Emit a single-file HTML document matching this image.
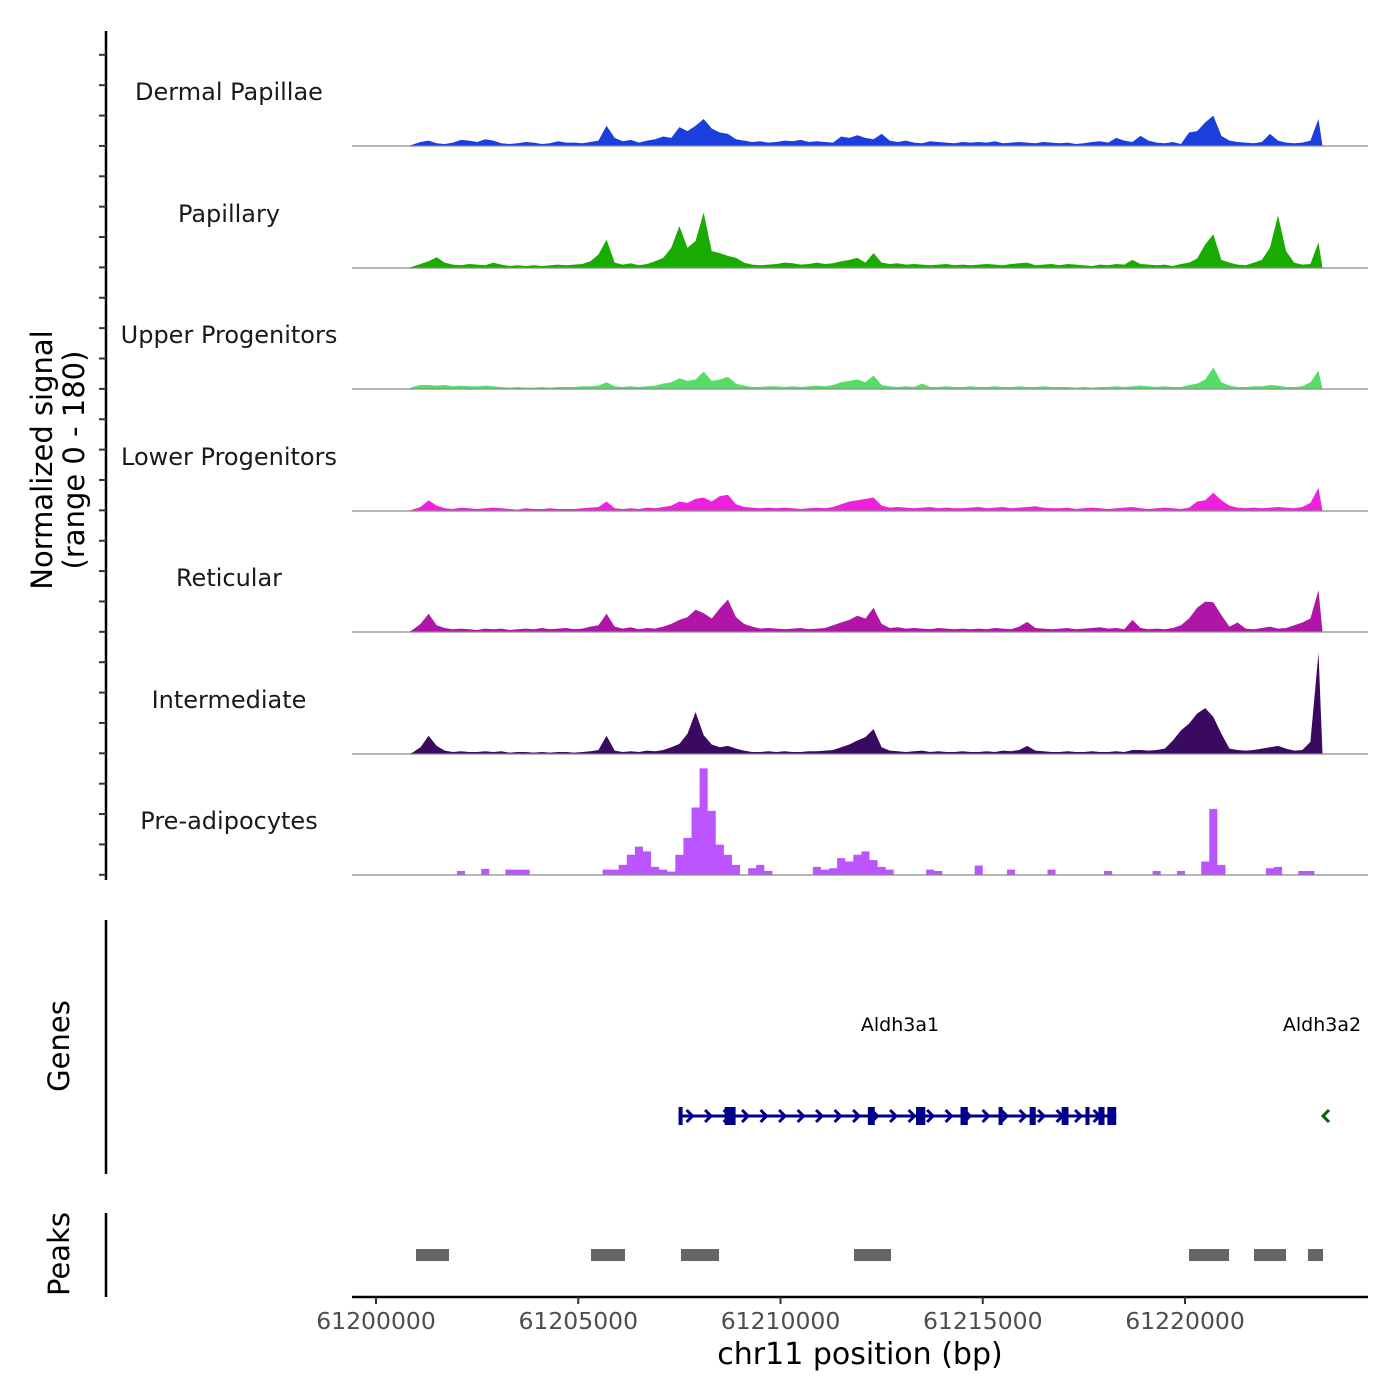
<!DOCTYPE html>
<html><head><meta charset="utf-8"><style>
body{margin:0;background:#fff}
svg{display:block;font-family:"DejaVu Sans","Liberation Sans",sans-serif}
</style></head><body>
<svg id="chart" width="1400" height="1400" viewBox="0 0 1400 1400" xmlns="http://www.w3.org/2000/svg">
<g id="tracks"></g>
<g id="axes"></g>
<g id="genes"></g>
<g id="peaks"></g>
</svg>
<script>
const trackNames=["Dermal Papillae","Papillary","Upper Progenitors","Lower Progenitors","Reticular","Intermediate","Pre-adipocytes"];
const trackColors=["#1a3fdc","#1aab00","#55dd66","#ee22dd","#b015a8","#3a0a60","#bb55ff"];
const binStart=61200800, binSize=200;
const dermalPapillae=[2,6,8,4,3,5,9,8,6,10,8,4,3,4,6,5,3,4,7,5,5,4,6,8,30,12,7,9,5,8,10,14,12,28,22,30,40,26,20,18,10,8,6,7,5,6,8,7,9,6,7,6,5,14,12,16,12,10,18,8,6,8,5,4,7,6,5,4,6,5,6,5,7,4,5,6,5,4,6,5,4,5,3,4,6,7,5,12,8,6,15,8,5,4,6,3,20,22,35,45,15,8,6,5,4,6,18,8,5,4,5,8,40];
const papillary=[2,6,10,16,8,5,4,6,5,4,8,5,3,4,3,4,3,4,5,4,5,6,10,20,42,8,5,7,4,6,10,15,30,62,30,40,82,25,22,18,15,8,5,4,5,6,8,7,5,6,8,6,7,10,12,15,8,22,8,6,7,5,6,5,4,5,6,4,5,4,5,6,5,4,6,7,8,4,5,6,4,6,5,4,3,5,4,6,5,12,6,5,4,5,3,6,8,14,35,50,12,8,5,4,8,12,30,78,25,8,5,6,38];
const upperProgenitors=[3,6,6,5,6,4,5,4,4,5,4,3,2,3,2,2,3,2,3,3,3,4,4,5,10,4,3,4,3,4,5,8,10,16,12,14,26,12,14,18,8,5,3,3,4,4,3,4,3,4,5,4,6,10,12,14,10,20,6,4,3,4,3,8,3,3,4,3,3,4,3,3,4,3,3,4,3,3,4,3,3,3,2,3,2,3,3,4,3,4,5,4,3,4,3,3,6,8,14,32,10,5,3,3,4,4,6,5,3,3,4,10,27];
const lowerProgenitors=[2,6,16,8,4,3,5,4,3,4,5,4,3,2,4,3,3,4,3,3,3,4,5,6,14,4,3,4,3,5,4,6,8,14,12,18,20,14,22,24,10,6,5,4,5,4,5,4,3,4,5,4,6,10,14,16,18,20,8,5,6,5,4,5,6,4,5,4,4,5,6,4,5,6,4,5,6,7,5,4,4,5,3,4,5,4,3,4,5,6,4,3,4,5,4,3,5,14,16,27,16,8,5,4,5,4,5,6,5,4,6,12,34];
const reticular=[3,12,27,10,6,4,5,4,3,5,4,5,3,4,5,4,6,4,5,6,4,5,8,10,27,8,5,7,4,6,5,8,12,18,22,33,28,20,35,48,22,12,8,5,6,5,4,5,6,4,5,6,10,14,18,24,20,36,12,6,7,5,6,5,4,6,5,4,5,4,5,4,6,5,4,8,15,6,5,4,5,6,4,5,6,7,5,6,4,18,6,4,5,4,6,10,20,36,45,44,25,8,14,5,4,6,8,5,6,10,14,20,62];
const intermediate=[2,10,27,12,5,3,4,3,3,4,3,4,2,3,3,2,3,2,3,3,2,3,4,6,27,5,3,4,3,5,4,6,10,15,30,62,28,14,10,12,8,5,3,3,4,3,4,3,3,4,4,5,6,10,14,20,25,37,10,5,4,3,4,5,3,4,3,3,4,3,3,4,3,5,4,6,12,5,4,3,3,4,3,3,4,3,3,4,3,6,6,5,6,8,20,35,45,60,68,55,30,8,6,5,6,8,10,12,8,5,6,18,150];
const preAdipocytes=[0,0,0,0,0,0,6,0,0,9,0,0,8,8,8,0,0,0,0,0,0,0,0,0,8,8,15,30,42,35,12,8,5,30,55,100,158,95,45,30,15,0,10,15,6,0,0,0,0,0,12,8,10,25,20,30,35,22,12,8,0,0,0,0,8,6,0,0,0,0,14,0,0,0,8,0,0,0,0,8,0,0,0,0,0,0,6,0,0,0,0,0,6,0,0,6,0,0,20,98,15,0,0,0,0,0,10,12,0,0,6,6,0];
const xTicks=[61200000,61205000,61210000,61215000,61220000];
const peakStarts=[61200989,61205315,61207540,61211817,61220099,61221706,61223041];
const peakEnds=[61201805,61206156,61208480,61212732,61221088,61222497,61223412];
const geneExonStarts=[61207480,61208620,61212160,61213350,61214450,61215390,61216160,61216950,61217540,61217860,61218080];
const geneExonEnds=[61207580,61208890,61212330,61213580,61214630,61215490,61216310,61217120,61217640,61218010,61218300];
const geneStart=61207480, geneEnd=61218300;

const NS="http://www.w3.org/2000/svg";
const X0=376, PXPERBP=809/20000;
function xScale(bp){return X0+(bp-61200000)*PXPERBP;}
const baselines=[146,268,389,511,632,754,875];
const trackH=121.5, yMax=180;
function yScale(v,i){return baselines[i]-v/yMax*trackH;}
function mk(tag,attrs,parent){const e=document.createElementNS(NS,tag);for(const k in attrs)e.setAttribute(k,attrs[k]);parent.appendChild(e);return e;}
const series=[dermalPapillae,papillary,upperProgenitors,lowerProgenitors,reticular,intermediate,preAdipocytes];
const gT=document.getElementById('tracks');
series.forEach((vals,i)=>{
  const b=baselines[i];
  let d="M"+xScale(binStart)+","+b;
  if(i===6){
    vals.forEach((v,j)=>{const x1=xScale(binStart+j*binSize),x2=xScale(binStart+(j+1)*binSize);d+=" L"+x1+","+yScale(v,i)+" L"+x2+","+yScale(v,i);});
  } else {
    vals.forEach((v,j)=>{d+=" L"+xScale(binStart+(j+0.5)*binSize)+","+yScale(v,i);});
  }
  d+=" L"+xScale(binStart+vals.length*binSize)+","+b+" Z";
  const p=mk('path',{d:d,fill:trackColors[i]},gT);
  
  
  const l=mk('line',{x1:352,x2:1368,y1:b,y2:b,stroke:'#8a8a8a','stroke-width':1.2},gT);
  
  
  const t=mk('text',{x:229,y:b-46,'text-anchor':'middle','font-size':24,fill:'#1a1a1a'},gT);
  t.textContent=trackNames[i];
  
  
});
const gA=document.getElementById('axes');
let a=mk('line',{x1:106,x2:106,y1:31,y2:880,stroke:'#000','stroke-width':2.5},gA);


for(let k=0;k<28;k++){const y=54.8+k*30.37;const tk=mk('line',{x1:99,x2:106,y1:y,y2:y,stroke:'#333','stroke-width':2},gA);

}
let yt=mk('text',{transform:'translate(52,460) rotate(-90)','text-anchor':'middle','font-size':29,fill:'#000'},gA);
yt.innerHTML='<tspan x="0" dy="0">Normalized signal</tspan><tspan x="0" dy="32">(range 0 - 180)</tspan>';


a=mk('line',{x1:106,x2:106,y1:920,y2:1174,stroke:'#000','stroke-width':2.5},gA);


a=mk('line',{x1:106,x2:106,y1:1213,y2:1297,stroke:'#000','stroke-width':2.5},gA);


let gt=mk('text',{transform:'translate(69,1046) rotate(-90)','text-anchor':'middle','font-size':29},gA);gt.textContent='Genes';


gt=mk('text',{transform:'translate(69,1254) rotate(-90)','text-anchor':'middle','font-size':29},gA);gt.textContent='Peaks';


a=mk('line',{x1:352,x2:1368,y1:1297,y2:1297,stroke:'#000','stroke-width':2.5},gA);


xTicks.forEach(v=>{const x=xScale(v);
 const tk=mk('line',{x1:x,x2:x,y1:1297,y2:1304,stroke:'#333','stroke-width':2},gA);
 
 
 const tl=mk('text',{x:x,y:1329,'text-anchor':'middle','font-size':23.5,fill:'#4d4d4d'},gA);tl.textContent=String(v);
 
 });
let xt=mk('text',{x:860,y:1364,'text-anchor':'middle','font-size':30},gA);xt.textContent='chr11 position (bp)';


// genes
const gG=document.getElementById('genes');
const gy=1116;
let gl=mk('line',{x1:xScale(geneStart),x2:xScale(geneEnd),y1:gy,y2:gy,stroke:'#00008b','stroke-width':3},gG);


for(let x=xScale(geneStart)+12;x<xScale(geneEnd)-3;x+=18.5){
 const c=mk('path',{d:`M${x-4},${gy-6} L${x+2},${gy} L${x-4},${gy+6}`,fill:'none',stroke:'#00008b','stroke-width':3},gG);
 
 
}
geneExonStarts.forEach((s,k)=>{const x1=xScale(s),x2=xScale(geneExonEnds[k]);
 const r=mk('rect',{x:x1,y:gy-9,width:Math.max(3,x2-x1),height:18,fill:'#00008b'},gG);
 
 });
let g2=mk('path',{d:`M1329,${gy-6} L1323,${gy} L1329,${gy+6}`,fill:'none',stroke:'#006400','stroke-width':3},gG);


let gl1=mk('text',{x:900,y:1031,'text-anchor':'middle','font-size':19},gG);gl1.textContent='Aldh3a1';


gl1=mk('text',{x:1322,y:1031,'text-anchor':'middle','font-size':19},gG);gl1.textContent='Aldh3a2';


// peaks
const gP=document.getElementById('peaks');
peakStarts.forEach((s,k)=>{const x1=xScale(s),x2=xScale(peakEnds[k]);
 const r=mk('rect',{x:x1,y:1249,width:x2-x1,height:12,fill:'#666'},gP);
 
 });
</script>
</body></html>
